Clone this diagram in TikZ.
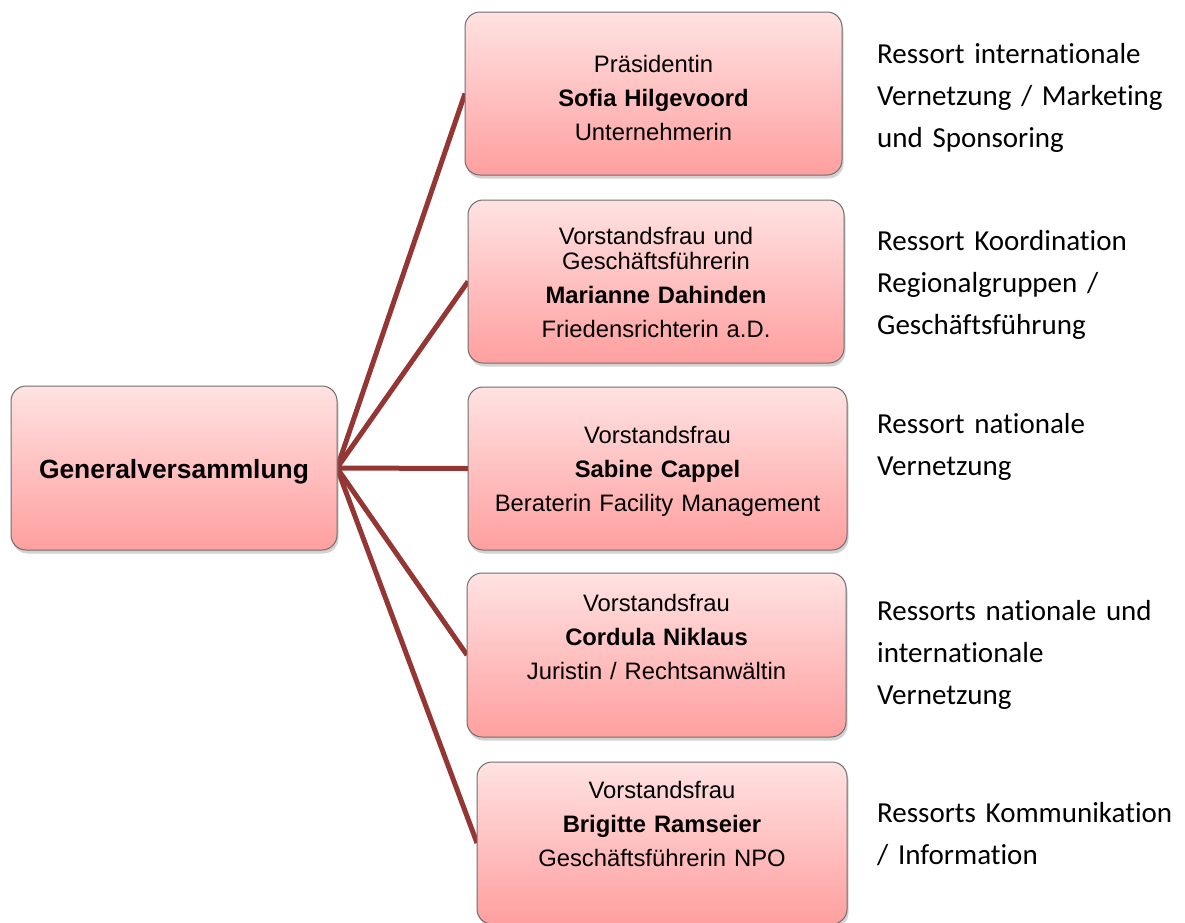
\documentclass[tikz,border=0pt]{standalone}
\usepackage{fontspec}
\setmainfont{Liberation Sans}
\newfontfamily\calfont[Ligatures=NoCommon]{Carlito}
\usetikzlibrary{shadows}
\pgfdeclarelayer{bg}
\pgfsetlayers{bg,main}
\definecolor{linkred}{HTML}{943634}
\definecolor{boxtop}{HTML}{FFE2E2}
\definecolor{boxbot}{HTML}{FF9F9F}
\definecolor{boxedge}{HTML}{6E6E6E}
\tikzset{
  orgbox/.style={rectangle, rounded corners=15pt, draw=boxedge, line width=1pt,
    top color=boxtop, bottom color=boxbot, inner sep=0pt, outer sep=0pt,
    drop shadow={opacity=0.35, shadow xshift=1.5pt, shadow yshift=-3.5pt}},
  boxtext/.style={anchor=base, align=center, text width=370pt,
    font=\fontsize{23.8}{34}\selectfont, inner sep=0pt},
  sidetext/.style={anchor=base west, align=left, text width=300pt,
    font=\calfont\fontsize{29}{42}\selectfont, inner sep=0pt},
  link/.style={draw=linkred, line width=5pt},
}
\begin{document}
\begin{tikzpicture}[x=1pt,y=-1pt]
\useasboundingbox (0,0) rectangle (1185,922);
\begin{pgfonlayer}{bg}
\fill[white] (0,0) rectangle (1185,922);
\end{pgfonlayer}

\node[orgbox, minimum width=326pt, minimum height=164pt] (gv) at (174,468) {};
\node[orgbox, minimum width=377pt, minimum height=163pt] (b1) at (653.5,93.5) {};
\node[orgbox, minimum width=376pt, minimum height=163pt] (b2) at (656,281.5) {};
\node[orgbox, minimum width=379pt, minimum height=163pt] (b3) at (657.5,468.5) {};
\node[orgbox, minimum width=379pt, minimum height=164pt] (b4) at (656.5,655) {};
\node[orgbox, minimum width=370pt, minimum height=162pt] (b5) at (662,843) {};

\node[anchor=base, inner sep=0pt, font=\bfseries\fontsize{26.4}{30}\selectfont] (gvt) at (174,478) {Generalversammlung};
\node[boxtext] (t1) at (653.5,72) {Präsidentin\\\textbf{Sofia Hilgevoord}\\Unternehmerin};
\node[boxtext] (t2) at (656,244) {Vorstandsfrau und\\[-9pt]Geschäftsführerin\\\textbf{Marianne Dahinden}\\Friedensrichterin a.D.};
\node[boxtext] (t3) at (657.5,443.5) {Vorstandsfrau\\\textbf{Sabine Cappel}\\Beraterin Facility Management};
\node[boxtext] (t4) at (656.5,611.5) {Vorstandsfrau\\\textbf{Cordula Niklaus}\\Juristin / Rechtsanwältin};
\node[boxtext] (t5) at (662,798.5) {Vorstandsfrau\\\textbf{Brigitte Ramseier}\\Geschäftsführerin NPO};

\node[sidetext] (r1) at (877,63) {Ressort internationale\\Vernetzung / Marketing\\und Sponsoring};
\node[sidetext] (r2) at (877,250) {Ressort Koordination\\Regionalgruppen /\\Geschäftsführung};
\node[sidetext] (r3) at (877,433) {Ressort nationale\\Vernetzung};
\node[sidetext] (r4) at (877,620) {Ressorts nationale und\\internationale\\Vernetzung};
\node[sidetext] (r5) at (877,822) {Ressorts Kommunikation\\/ Information};

\begin{pgfonlayer}{bg}
\draw[link] (gv.east) -- (b1.west);
\draw[link] (gv.east) -- (b2.west);
\draw[link] (gv.east) -- (b3.west);
\draw[link] (gv.east) -- (b4.west);
\draw[link] (gv.east) -- (b5.west);
\end{pgfonlayer}
\end{tikzpicture}
\end{document}
